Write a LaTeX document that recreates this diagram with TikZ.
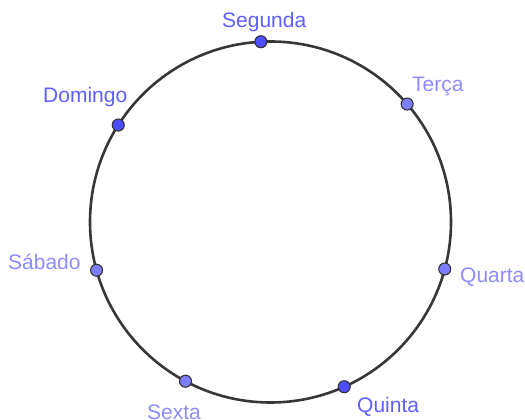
\documentclass[tikz,border=0pt]{standalone}
\usepackage{fontspec}
\setmainfont{Liberation Sans}
\usepackage{xcolor}
\usetikzlibrary{positioning,calc}
\definecolor{ptdark}{RGB}{77,77,255}
\definecolor{ptlight}{RGB}{125,125,255}
\definecolor{lbldark}{RGB}{95,95,255}
\definecolor{lbllight}{RGB}{140,140,255}
\definecolor{ring}{RGB}{55,55,55}
\tikzset{
  ringline/.style={draw=ring,line width=2.6pt},
  dotd/.style={circle,draw=black!80,line width=1.1pt,fill=ptdark,
               inner sep=0pt,minimum size=12pt},
  dotl/.style={dotd,fill=ptlight},
  lbld/.style={anchor=base west,inner sep=0pt,text=lbldark,
               font=\fontsize{21}{24}\selectfont},
  lbll/.style={lbld,text=lbllight},
}

\begin{document}
\begin{tikzpicture}[x=1pt,y=1pt]
  \useasboundingbox (0,0) rectangle (525,420);
  % ===== ring =====
  \coordinate (c) at (270.5,198);
  \draw[ringline] (c) circle[radius=180.5];

  % ===== days on the ring =====
  \node[dotd] (seg) at ($(c)+(93.05:180.5)$)  {};
  \node[dotl] (ter) at ($(c)+(40.8:180.5)$)   {};
  \node[dotl] (qua) at ($(c)+(-15.1:180.5)$)  {};
  \node[dotd] (qui) at ($(c)+(-65.9:180.5)$)  {};
  \node[dotl] (sex) at ($(c)+(241.9:180.5)$)  {};
  \node[dotl] (sab) at ($(c)+(195.5:180.5)$)  {};
  \node[dotd] (dom) at ($(c)+(147.5:180.5)$)  {};

  % ===== labels =====
  \node[lbld] (segL) at (222,392)  {Segunda};
  \node[lbll] (terL) at (412,328)  {Terça};
  \node[lbll] (quaL) at (460,137)  {Quarta};
  \node[lbld] (quiL) at (357,7.5)  {Quinta};
  \node[lbll] (sexL) at (147,0)    {Sexta};
  \node[lbll] (sabL) at (8,150)    {Sábado};
  \node[lbld] (domL) at (43,317)   {Domingo};
\end{tikzpicture}
\end{document}
